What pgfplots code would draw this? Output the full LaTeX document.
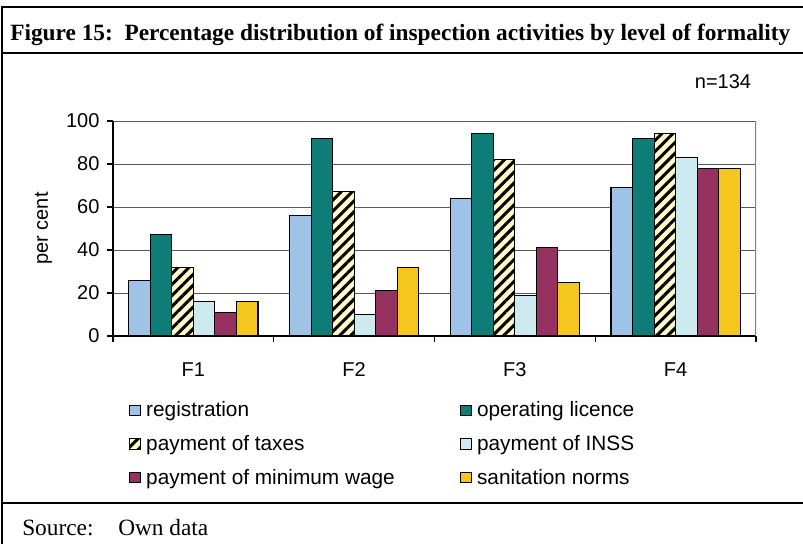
\documentclass[border=0pt]{standalone}
\usepackage{fontspec}
\setmainfont{Liberation Serif}
\setsansfont{Liberation Sans}
\usepackage{pgfplots}
\pgfplotsset{compat=1.18}
\usetikzlibrary{patterns.meta}
\definecolor{regblue}{RGB}{158,195,230}
\definecolor{licteal}{RGB}{14,125,120}
\definecolor{taxyellow}{RGB}{255,250,200}
\definecolor{inssblue}{RGB}{204,234,240}
\definecolor{wageplum}{RGB}{150,50,95}
\definecolor{sanyellow}{RGB}{245,198,30}
\definecolor{gridgray}{RGB}{90,90,90}

\begin{document}
\begin{tikzpicture}[x=0.75pt,y=-0.75pt]
\path[use as bounding box] (0,0) rectangle (803,544);
% figure frame
\draw[line width=1.5pt] (2,7) -- (803,7);
\draw[line width=1.5pt] (2,53) -- (803,53);
\draw[line width=1.5pt] (2,503) -- (803,503);
\draw[line width=1.5pt] (2,6.25) -- (2,544);
\node[anchor=base west, inner sep=0pt, font=\bfseries\fontsize{17.5}{20}\selectfont]
  at (10,40) {Figure 15:\ \ Percentage distribution of inspection activities by level of formality};
\node[anchor=base west, inner sep=0pt, font=\fontsize{17.5}{20}\selectfont] at (22,535) {Source:};
\node[anchor=base west, inner sep=0pt, font=\fontsize{17.5}{20}\selectfont] at (118,535) {Own data};
\node[anchor=base, inner sep=0pt, font=\sffamily\fontsize{15}{18}\selectfont] at (723,88) {n=134};
\coordinate (origin) at (113,336);
\begin{axis}[
  at={(origin)}, anchor=south west,
  scale only axis,
  width=482.25pt, height=161.25pt,
  ybar,
  bar width=0.134,
  xmin=-0.5, xmax=3.5,
  ymin=0, ymax=100,
  ytick={0,20,40,60,80,100},
  xtick={0,1,2,3},
  xticklabels={F1,F2,F3,F4},
  minor xtick={-0.5,0.5,1.5,2.5,3.5},
  major x tick style={draw=none},
  minor tick length=4.5pt,
  major tick length=4.5pt,
  tick align=outside,
  axis x line*=bottom,
  axis y line*=left,
  axis line style={black, line width=0.8pt},
  tick style={black, line width=0.8pt},
  ymajorgrids,
  grid style={gridgray, line width=0.6pt},
  font=\sffamily\fontsize{15}{18}\selectfont,
  /pgf/number format/assume math mode=true,
  xticklabel style={anchor=north, inner sep=0pt, yshift=-15pt},
  yticklabel style={anchor=east, inner sep=0pt, xshift=-5.5pt},
  ylabel={per cent},
  ylabel style={at={(axis description cs:-0.108,0.5)}, anchor=center, rotate=0},
  legend columns=2,
  legend cell align=left,
  legend style={at={(0.0187,-0.28)}, anchor=north west, draw=none, fill=none,
    font=\sffamily\fontsize{15.6}{18}\selectfont, row sep=8.4pt,
    /tikz/every even column/.append style={column sep=47pt}},
  legend image code/.code={\draw[#1, line width=0.6pt] (0pt,-4pt) rectangle (8.25pt,4pt); \path (10pt,0pt);},
]
\addplot[bar shift=-0.335, fill=regblue, draw=black, line width=0.8pt]
  coordinates {(0,26) (1,56) (2,64) (3,69)};
\addplot[bar shift=-0.201, fill=licteal, draw=black, line width=0.8pt]
  coordinates {(0,47) (1,92) (2,94) (3,92)};
\addplot[bar shift=-0.067, fill=taxyellow, draw=black, line width=0.8pt,
  postaction={pattern={Lines[angle=45,distance=5.8pt,line width=2.3pt]}, pattern color=black}]
  coordinates {(0,32) (1,67) (2,82) (3,94)};
\addplot[bar shift=0.067, fill=inssblue, draw=black, line width=0.8pt]
  coordinates {(0,16) (1,10) (2,19) (3,83)};
\addplot[bar shift=0.201, fill=wageplum, draw=black, line width=0.8pt]
  coordinates {(0,11) (1,21) (2,41) (3,78)};
\addplot[bar shift=0.335, fill=sanyellow, draw=black, line width=0.8pt]
  coordinates {(0,16) (1,32) (2,25) (3,78)};
\legend{registration, operating licence, payment of taxes, payment of INSS, payment of minimum wage, sanitation norms}
\draw[gray, line width=0.8pt] (rel axis cs:1,0) -- (rel axis cs:1,1);
\end{axis}
\end{tikzpicture}
\end{document}
